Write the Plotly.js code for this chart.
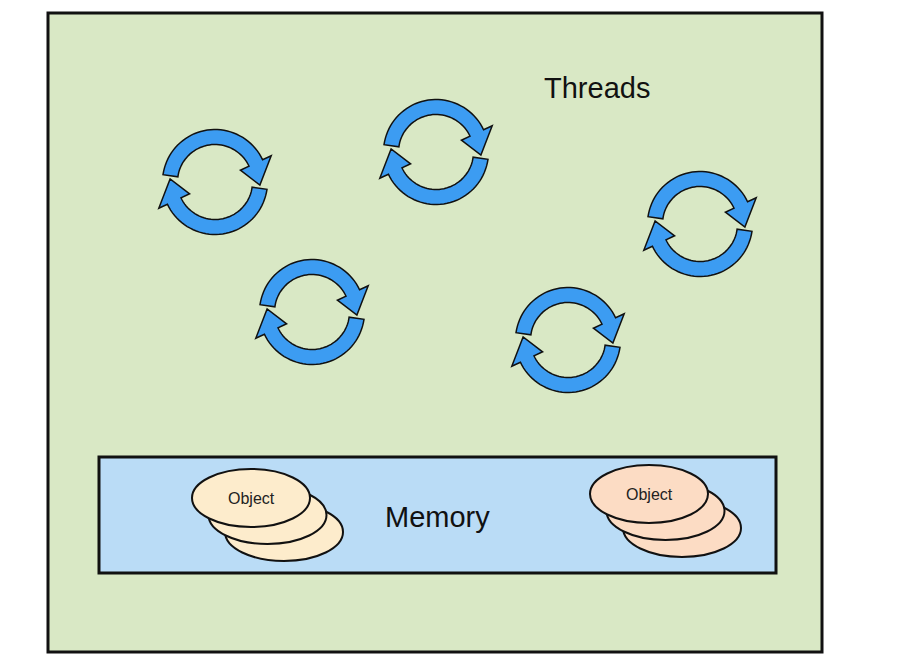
<!DOCTYPE html>
<html><head><meta charset="utf-8">
<script src="https://cdn.plot.ly/plotly-3.0.1.min.js"></script>
<style>html,body{margin:0;padding:0;background:#fff}</style>
</head><body><div id="c" style="width:908px;height:668px"></div>
<script>
// Diagram data (pixel-space coordinates of elements)
const threadX = [215, 436, 700, 312, 568];
const threadY = [182, 152, 224, 312, 340];
const stackX = [251, 649];
const stackY = [498, 494];
const stackFill = ['#fdeccc', '#fcdcc4'];
const labels = ['Threads', 'Memory', 'Object'];

function P(cx, cy, r, deg){const t=deg*Math.PI/180;return [cx+r*Math.cos(t), cy-r*Math.sin(t)];}
function arcArrow(cx, cy, a0, a1, tip){
  const Ro=52.5, Ri=37.5, Rm=45, wA=16;
  let pts=[]; const n=40;
  for(let i=0;i<=n;i++) pts.push(P(cx,cy,Ro,a0+(a1-a0)*i/n));
  pts.push(P(cx,cy,Rm+wA+1,a1));
  pts.push(P(cx,cy,Rm,tip));
  pts.push(P(cx,cy,Rm-wA-1,a1));
  for(let i=n;i>=0;i--) pts.push(P(cx,cy,Ri,a0+(a1-a0)*i/n));
  return 'M'+pts.map(p=>p[0].toFixed(1)+','+p[1].toFixed(1)).join(' L')+' Z';
}
const shapes=[];
shapes.push({type:'rect',x0:48,x1:822,y0:13,y1:652,fillcolor:'#d9e8c5',line:{color:'#111',width:3}});
shapes.push({type:'rect',x0:99,x1:776,y0:457,y1:573,fillcolor:'#badcf6',line:{color:'#111',width:3}});
threadX.forEach((x,i)=>{
  const y=threadY[i];
  shapes.push({type:'path',path:arcArrow(x,y,172,25,-4),fillcolor:'#3c9cf2',line:{color:'#111',width:1.5}});
  shapes.push({type:'path',path:arcArrow(x,y,-8,-155,-184),fillcolor:'#3c9cf2',line:{color:'#111',width:1.5}});
});
const ann=[];
stackX.forEach((x,i)=>{
  const y=stackY[i];
  for(let k=2;k>=0;k--){
    const cx=x+16.5*k, cy=y+17*k;
    shapes.push({type:'circle',x0:cx-59,x1:cx+59,y0:cy-29,y1:cy+29,fillcolor:stackFill[i],line:{color:'#111',width:2}});
  }
  ann.push({x:x,y:y,text:labels[2],showarrow:false,font:{size:16,color:'#222',family:'Liberation Sans, Arial'}});
});
ann.push({x:597,y:88,text:labels[0],showarrow:false,font:{size:29,color:'#111',family:'Liberation Sans, Arial'}});
ann.push({x:437,y:517,text:labels[1],showarrow:false,font:{size:29,color:'#111',family:'Liberation Sans, Arial'}});
Plotly.newPlot('c',[{x:[],y:[],type:'scatter'}],{
  width:908,height:668,margin:{l:0,r:0,t:0,b:0},
  paper_bgcolor:'#fff',plot_bgcolor:'#fff',showlegend:false,
  xaxis:{range:[0,908],visible:false,fixedrange:true},
  yaxis:{range:[668,0],visible:false,fixedrange:true},
  shapes:shapes,annotations:ann
},{displayModeBar:false,staticPlot:true});
</script></body></html>
